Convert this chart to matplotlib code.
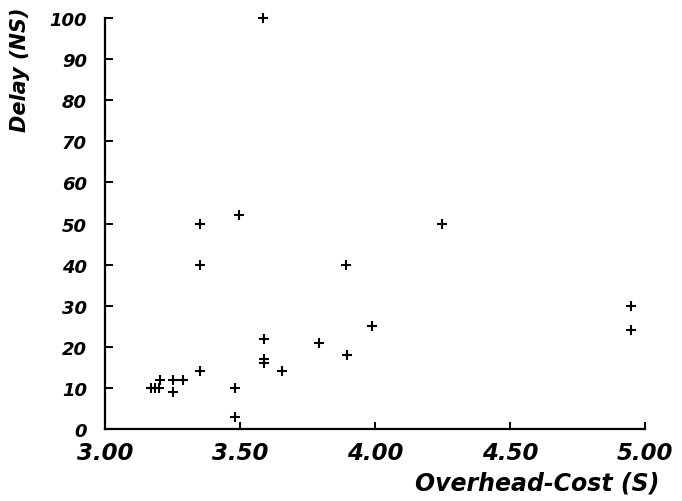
import matplotlib
matplotlib.use("Agg")
import matplotlib.pyplot as plt

# Data
overhead_cost = [3.17, 3.185, 3.20, 3.205, 3.25, 3.25, 3.29, 3.352, 3.352, 3.352,
                 3.48, 3.48, 3.497, 3.586, 3.59, 3.59, 3.59, 3.654, 3.793, 3.895,
                 3.893, 3.99, 4.249, 4.948, 4.948]
delay = [10, 10, 10, 12, 9, 12, 12, 14, 40, 50,
         10, 3, 52, 100, 22, 17, 16, 14, 21, 18,
         40, 25, 50, 30, 24]

x_ticks = [3.00, 3.50, 4.00, 4.50, 5.00]
x_tick_labels = ["3.00", "3.50", "4.00", "4.50", "5.00"]
y_ticks = [0, 10, 20, 30, 40, 50, 60, 70, 80, 90, 100]
y_tick_labels = ["0", "10", "20", "30", "40", "50", "60", "70", "80", "90", "100"]

fig = plt.figure(figsize=(6.82, 5.02), dpi=100)
ax = fig.add_axes([105 / 682, 1 - 430 / 502, (645 - 105) / 682, (430 - 19) / 502])

ax.plot(overhead_cost, delay, linestyle="none", marker="+", markersize=6.5,
        markeredgewidth=1.5, color="black", clip_on=False)

ax.set_xlim(3.0, 5.0)
ax.set_ylim(0, 100)

for s in ["top", "right"]:
    ax.spines[s].set_visible(False)
for s in ["left", "bottom"]:
    ax.spines[s].set_linewidth(1.6)
    ax.spines[s].set_color("black")

tick_font = dict(family="DejaVu Sans", style="oblique", weight="bold")
ax.set_xticks(x_ticks)
ax.set_xticklabels(x_tick_labels, fontsize=16.5, **tick_font)
ax.set_yticks(y_ticks)
ax.set_yticklabels(y_tick_labels, fontsize=13, **tick_font)
ax.tick_params(axis="x", direction="in", length=5, width=1.4, pad=9)
ax.tick_params(axis="y", direction="in", length=6, width=1.4, pad=13)

fig.text(20 / 682, 1 - 8 / 502, "Delay (NS)", rotation=90, ha="center", va="top",
         fontsize=15, family="DejaVu Sans", style="oblique", weight="bold")
fig.text(659 / 682, 1 - 484 / 502, "Overhead-Cost (S)", ha="right", va="center",
         fontsize=17, family="DejaVu Sans", style="oblique", weight="bold")

fig.savefig("out.png", dpi=100)
